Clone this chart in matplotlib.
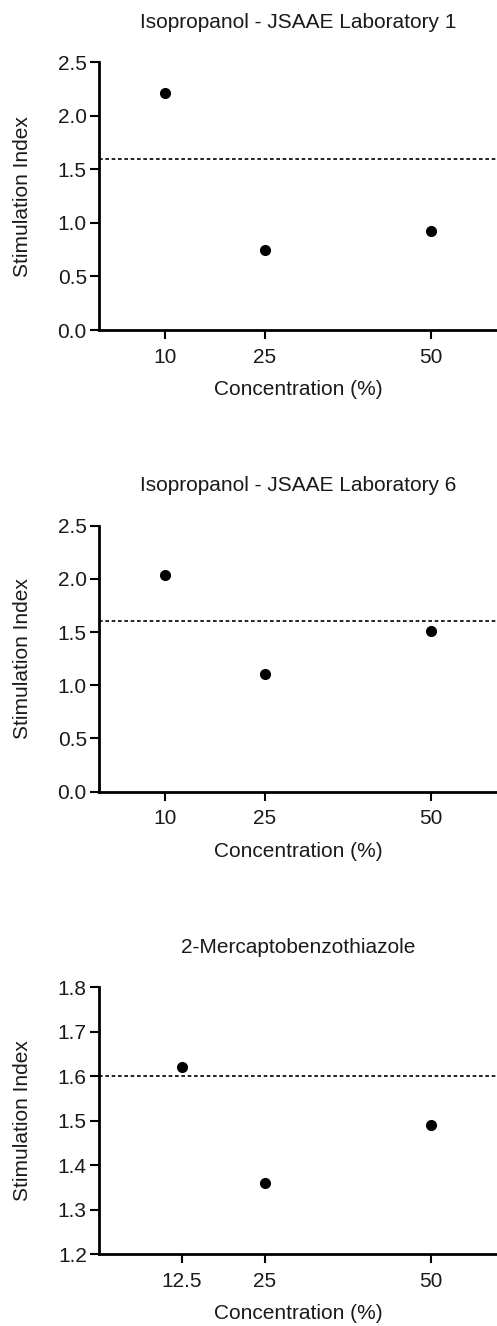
import matplotlib
matplotlib.use("Agg")
import matplotlib.pyplot as plt

plt.rcParams['font.family'] = ['Liberation Sans', 'DejaVu Sans']

titles = ["Isopropanol - JSAAE Laboratory 1",
          "Isopropanol - JSAAE Laboratory 6",
          "2-Mercaptobenzothiazole"]
conc_lab1 = [10, 25, 50]
si_lab1 = [2.21, 0.75, 0.92]
conc_lab6 = [10, 25, 50]
si_lab6 = [2.04, 1.11, 1.51]
conc_mbt = [12.5, 25, 50]
si_mbt = [1.62, 1.36, 1.49]
xtick_labels = [["10", "25", "50"], ["10", "25", "50"], ["12.5", "25", "50"]]
yticks_list = [[0.0, 0.5, 1.0, 1.5, 2.0, 2.5],
               [0.0, 0.5, 1.0, 1.5, 2.0, 2.5],
               [1.2, 1.3, 1.4, 1.5, 1.6, 1.7, 1.8]]
threshold = 1.6

W, H = 497, 1326
fig = plt.figure(figsize=(W / 100, H / 100), dpi=100)

boxes = [(62.3, 330.0), (525.7, 791.7), (987.3, 1254.3)]
left = 99 / W
width = 1 - left
concs = [conc_lab1, conc_lab6, conc_mbt]
sis = [si_lab1, si_lab6, si_mbt]
ylims = [(0, 2.5), (0, 2.5), (1.2, 1.8)]
txt = '#1a1a1a'
fs = 15

for i in range(3):
    top, bot = boxes[i]
    ax = fig.add_axes([left, 1 - bot / H, width, (bot - top) / H])
    ax.plot(concs[i], sis[i], 'o', color='black', markersize=7, clip_on=False, zorder=3)
    ax.axhline(threshold, color='black', linewidth=1.2, linestyle=(0, (2.2, 1.6)))
    ax.set_xlim(0, 60)
    ax.set_ylim(*ylims[i])
    ax.set_xticks(concs[i])
    ax.set_xticklabels(xtick_labels[i])
    ax.set_yticks(yticks_list[i])
    ax.set_yticklabels([f"{v:.1f}" for v in yticks_list[i]])
    for s in ['top', 'right']:
        ax.spines[s].set_visible(False)
    for s in ['left', 'bottom']:
        ax.spines[s].set_linewidth(2.0)
    ax.tick_params(axis='both', length=6.8, width=1.5, labelsize=fs, colors='black',
                   labelcolor=txt)
    ax.tick_params(axis='y', pad=2)
    ax.tick_params(axis='x', pad=6)
    ax.set_title(titles[i], fontsize=fs, color=txt, pad=25)
    ax.set_xlabel("Concentration (%)", fontsize=fs, color=txt, labelpad=9.5)
    ax.set_ylabel("Stimulation Index", fontsize=fs, color=txt, labelpad=18.5)

fig.savefig("out.png", dpi=100)
